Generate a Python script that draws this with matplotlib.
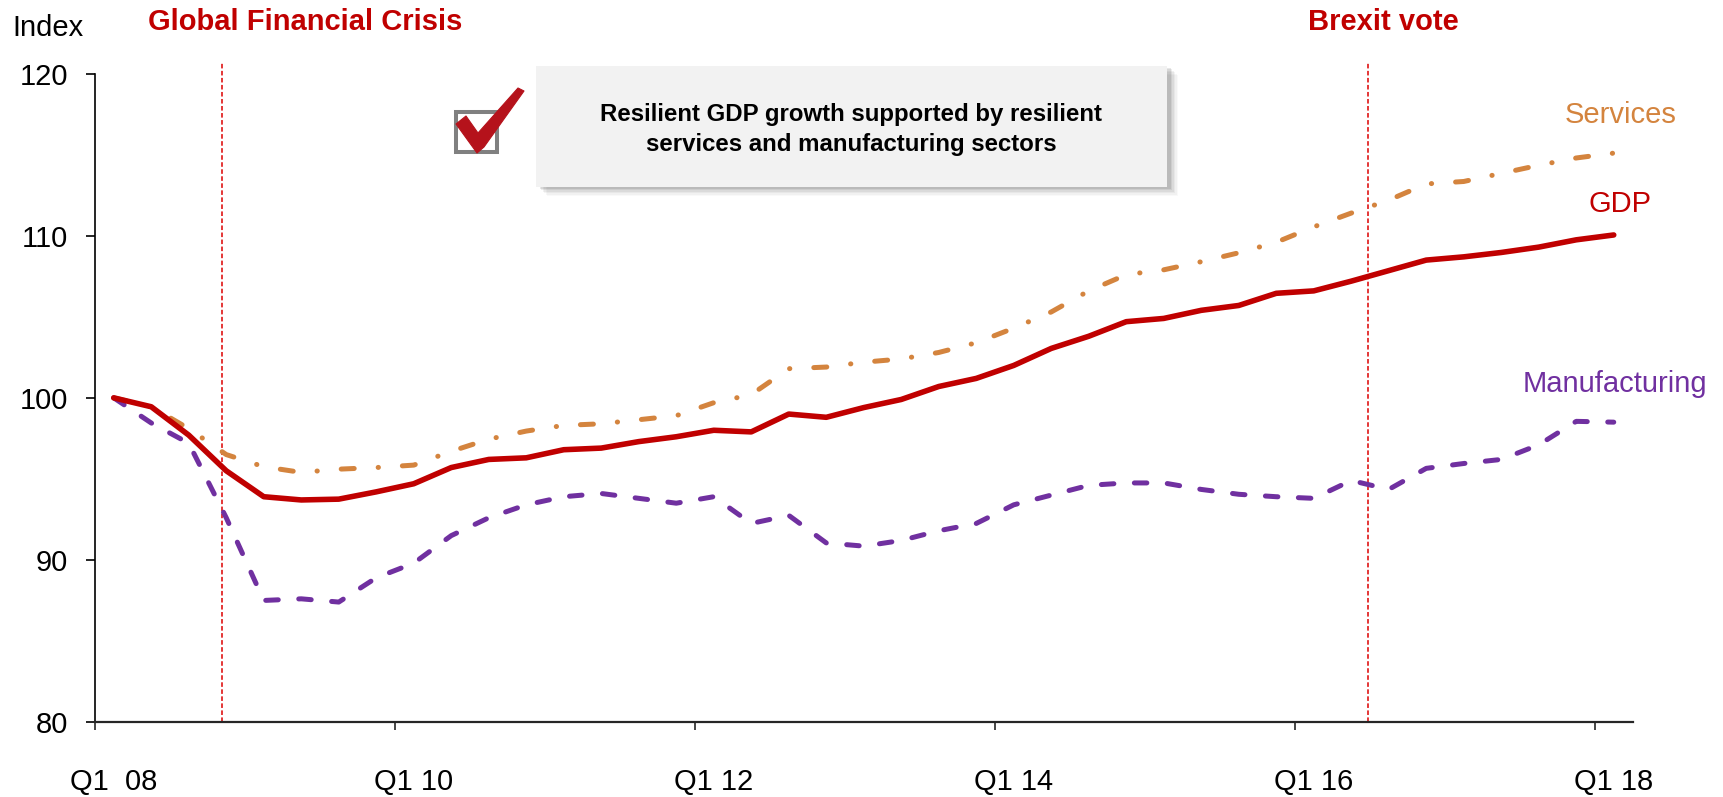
import numpy as np
import matplotlib
matplotlib.use("Agg")
import matplotlib.pyplot as plt
from matplotlib.patches import Rectangle, Polygon
from matplotlib.transforms import blended_transform_factory

plt.rcParams['font.family'] = ['Liberation Sans', 'DejaVu Sans']

# Quarterly index, Q1 2008 = 100 (Q1 08 .. Q1 18)
gdp = [100.0, 99.45, 97.7, 95.5, 93.9, 93.7, 93.75, 94.2, 94.7, 95.7,
       96.2, 96.3, 96.8, 96.9, 97.3, 97.6, 98.0, 97.9, 99.0, 98.8,
       99.4, 99.9, 100.7, 101.2, 102.0, 103.05, 103.8, 104.7, 104.9, 105.4,
       105.7, 106.45, 106.6, 107.2, 107.85, 108.5, 108.7, 108.97, 109.3, 109.75,
       110.05]

services = [100.0, 99.45, 98.1, 96.5, 95.75, 95.4, 95.6, 95.7, 95.85, 96.7,
            97.45, 97.95, 98.3, 98.4, 98.65, 98.9, 99.7, 100.2, 101.8, 101.9,
            102.2, 102.4, 102.8, 103.4, 104.3, 105.3, 106.6, 107.6, 107.9, 108.4,
            108.95, 109.6, 110.55, 111.4, 112.2, 113.2, 113.35, 113.85, 114.35, 114.8,
            115.1]

manufacturing = [100.0, 98.45, 97.2, 92.6, 87.5, 87.6, 87.4, 88.9, 89.8, 91.5,
                 92.6, 93.4, 93.9, 94.1, 93.8, 93.5, 93.9, 92.25, 92.75, 91.05,
                 90.85, 91.2, 91.8, 92.25, 93.4, 94.0, 94.6, 94.75, 94.75, 94.35,
                 94.05, 93.9, 93.8, 94.9, 94.35, 95.65, 95.95, 96.2, 97.1, 98.55,
                 98.5]

tick_labels = ["Q1  08", "Q1 10", "Q1 12", "Q1 14", "Q1 16", "Q1 18"]
yticks = [80, 90, 100, 110, 120]

# (label, line position, label centre) on the quarter axis
events = [("Global Financial Crisis", 3.38, 5.6), ("Brexit vote", 33.94, 34.35)]

C_GDP = "#c00000"
C_SERV = "#d4843e"
C_MANU = "#7030a0"
C_EVENT = "#dd0000"

W, H = 1723, 797
fig = plt.figure(figsize=(W / 100, H / 100), dpi=100)


def fx(px):
    return px / W


def fy(py):
    return 1 - py / H


ax = fig.add_axes([fx(95), fy(722), fx(1632.5) - fx(95), fy(73.7) - fy(722)])

x = np.arange(len(gdp)) + 0.5

ax.plot(x, services, color=C_SERV, lw=3.6, dashes=(2.6, 4.8, 0.05, 4.8),
        dash_capstyle='round', solid_capstyle='round', zorder=3)
ax.plot(x, manufacturing, color=C_MANU, lw=3.6, dashes=(2.5, 4.1),
        dash_capstyle='round', zorder=3)
ax.plot(x, gdp, color=C_GDP, lw=4.0, solid_capstyle='round',
        solid_joinstyle='round', zorder=4)

ax.set_xlim(0, len(gdp))
ax.set_ylim(80, 120)

# ticks on quarter boundaries, labels centred on the quarter
ax.set_xticks(np.arange(0, 41, 8))
ax.set_xticklabels([])
ax.set_xticks(np.arange(0, 41, 8) + 0.5, minor=True)
ax.set_xticklabels(tick_labels, minor=True)
ax.tick_params(axis='x', which='major', direction='out', length=5.8, width=1.2,
               color='#262626')
ax.tick_params(axis='x', which='minor', length=0, pad=33, labelsize=21)

ax.set_yticks(yticks)
ax.tick_params(axis='y', direction='out', length=6.5, width=1.2, pad=13,
               labelsize=21)

for s in ('top', 'right'):
    ax.spines[s].set_visible(False)
ax.spines['left'].set_linewidth(1.2)
ax.spines['bottom'].set_linewidth(1.6)
ax.spines['bottom'].set_color('#262626')

# event markers
tr = blended_transform_factory(ax.transData, fig.transFigure)
for name, xpos, xlab in events:
    ax.axvline(xpos, ymin=0, ymax=1.018, color=C_EVENT, lw=1.1,
               ls=(0, (3, 1.6)), clip_on=False, zorder=2)
    ax.text(xlab, fy(22), name, transform=tr, ha='center', va='center',
            fontsize=21, fontweight='bold', color=C_GDP, clip_on=False)

# series labels
ax.text(40.67, 117.45, "Services", color=C_SERV, fontsize=21,
        ha='center', va='center', clip_on=False)
ax.text(40.67, 111.95, "GDP", color=C_GDP, fontsize=21,
        ha='center', va='center', clip_on=False)
ax.text(40.53, 100.85, "Manufacturing", color=C_MANU, fontsize=21,
        ha='center', va='center', clip_on=False)

fig.text(fx(12), fy(28), "Index", fontsize=21, ha='left', va='center')

# call-out box with soft shadow
bx0, by0, bx1, by1 = 536, 66, 1167, 187
for i, a in enumerate([0.12, 0.09, 0.07, 0.05, 0.04, 0.03]):
    off = 2 + i * 1.4
    fig.add_artist(Rectangle((fx(bx0 + off + 2), fy(by1 + off)),
                             fx(bx1 - bx0), fy(by0) - fy(by1),
                             transform=fig.transFigure, facecolor='#404040',
                             edgecolor='none', alpha=a, zorder=5))
fig.add_artist(Rectangle((fx(bx0), fy(by1)), fx(bx1 - bx0), fy(by0) - fy(by1),
                         transform=fig.transFigure, facecolor='#f2f2f2',
                         edgecolor='none', zorder=6))
fig.text(fx(851), fy(114), "Resilient GDP growth supported by resilient",
         fontsize=17.3, fontweight='bold', ha='center', va='center', zorder=7)
fig.text(fx(851), fy(144), "services and manufacturing sectors",
         fontsize=17.3, fontweight='bold', ha='center', va='center', zorder=7)

# tick box icon
fig.add_artist(Rectangle((fx(456), fy(152)), fx(497 - 456), fy(112) - fy(152),
                         transform=fig.transFigure, facecolor='white',
                         edgecolor='#808080', lw=2.9, zorder=6))
check_px = [(456, 124), (466, 116), (478, 133), (518, 88), (524, 91),
            (484, 147), (477, 153)]
fig.add_artist(Polygon([(fx(px), fy(py)) for px, py in check_px], closed=True,
                       transform=fig.transFigure, facecolor='#b5121b',
                       edgecolor='#b5121b', lw=0.8, joinstyle='round', zorder=7))

fig.savefig("out.png", dpi=100)
